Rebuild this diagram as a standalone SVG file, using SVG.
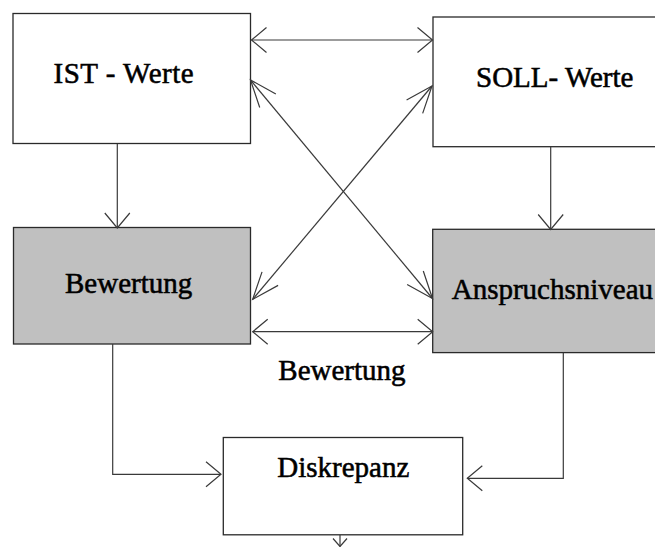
<svg xmlns="http://www.w3.org/2000/svg" width="655" height="547" viewBox="0 0 655 547">
<style>
.box{stroke:#2a2a2a;stroke-width:1.3}
.w{fill:#ffffff}
.g{fill:#c0c0c0}
.c{fill:none;stroke:#3a3a3a;stroke-width:1.2}
.t{font-family:"Liberation Serif","Times New Roman",serif;font-size:29px;fill:#000;stroke:#000;stroke-width:0.55}
</style>
<defs>
<marker id="a" markerUnits="userSpaceOnUse" orient="auto-start-reverse" markerWidth="40" markerHeight="40" refX="0" refY="0" viewBox="-30 -20 40 40" overflow="visible">
<path d="M-15,-12.5 L0,0 L-15,12.5" fill="none" stroke="#3a3a3a" stroke-width="1.2"/>
</marker>
<marker id="d" markerUnits="userSpaceOnUse" orient="auto-start-reverse" markerWidth="40" markerHeight="40" refX="0" refY="0" viewBox="-30 -20 40 40" overflow="visible">
<path d="M-27,-10.5 L0,0 L-27,10.5" fill="none" stroke="#3a3a3a" stroke-width="1.2"/>
</marker>
<marker id="s" markerUnits="userSpaceOnUse" orient="auto" markerWidth="20" markerHeight="20" refX="0" refY="0" viewBox="-10 -10 20 20" overflow="visible">
<path d="M-8,-7 L0,0 L-8,7" fill="none" stroke="#3a3a3a" stroke-width="1.2"/>
</marker>
</defs>
<rect width="655" height="547" fill="#ffffff"/>
<g id="ist">
<rect class="box w" x="13" y="13.5" width="237.5" height="130"/>
<text class="t" x="53.5" y="83.3" letter-spacing="0.5">IST - Werte</text>
</g>
<g id="soll">
<rect class="box w" x="433" y="17" width="240" height="129.7"/>
<text class="t" x="476" y="87.3">SOLL- Werte</text>
</g>
<g id="bewertung">
<rect class="box g" x="13.5" y="227.5" width="237" height="116.5"/>
<text class="t" x="65" y="293.3">Bewertung</text>
</g>
<g id="anspruchsniveau">
<rect class="box g" x="432.7" y="229.3" width="240" height="123.3"/>
<text class="t" x="451.7" y="299.3">Anspruchsniveau</text>
</g>
<g id="diskrepanz">
<rect class="box w" x="223.3" y="437.5" width="239.4" height="97.3"/>
<text class="t" x="277.3" y="476.7">Diskrepanz</text>
</g>
<g id="connectors">
<line class="c" x1="251.5" y1="40" x2="432.5" y2="40" marker-start="url(#a)" marker-end="url(#a)"/>
<line class="c" x1="250.5" y1="80" x2="432.5" y2="298.5" marker-start="url(#d)" marker-end="url(#d)"/>
<line class="c" x1="432" y1="86" x2="252.7" y2="299.3" marker-start="url(#d)" marker-end="url(#d)"/>
<line class="c" x1="252.7" y1="331.7" x2="432.7" y2="331.7" marker-start="url(#a)" marker-end="url(#a)"/>
<line class="c" x1="117.3" y1="144" x2="117.3" y2="228" marker-end="url(#a)"/>
<line class="c" x1="550.7" y1="147" x2="550.7" y2="229.5" marker-end="url(#a)"/>
<polyline class="c" points="112.7,344 112.7,474.3 221,474.3" marker-end="url(#a)"/>
<polyline class="c" points="563.3,352.7 563.3,478.3 467.3,478.3" marker-end="url(#a)"/>
<line class="c" x1="340" y1="535" x2="340" y2="546.5" marker-end="url(#s)"/>
<text class="t" x="278.3" y="380">Bewertung</text>
</g>
</svg>
